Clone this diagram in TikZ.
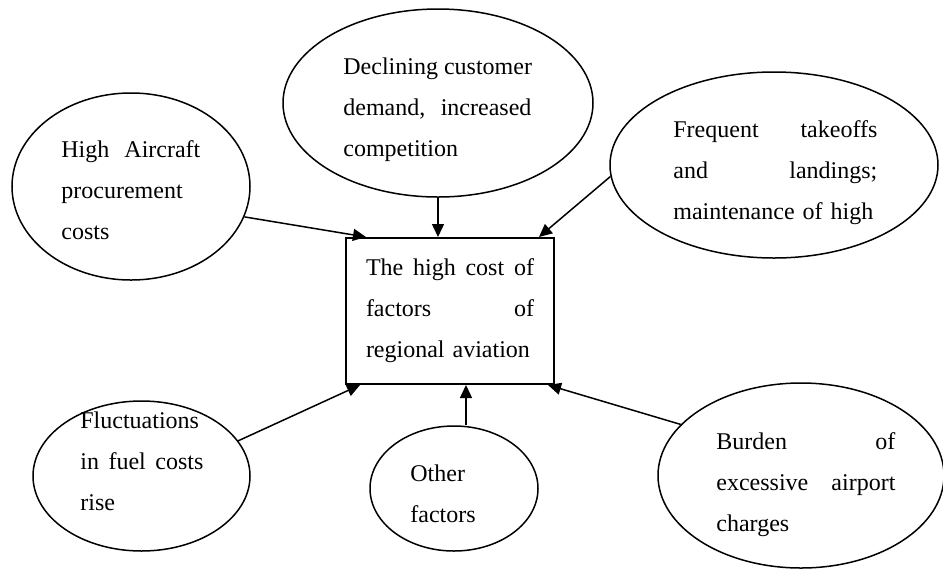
\documentclass[tikz,border=0pt]{standalone}
\usepackage{fontspec}
\setmainfont{Liberation Serif}
\usetikzlibrary{arrows.meta, shapes.geometric}
\newcommand{\jline}[1]{\makebox[\hsize][s]{\spaceskip=0.25em plus 1fil\relax #1}}

\begin{document}
\begin{tikzpicture}[x=0.5pt, y=-0.5pt,
  oval/.style={draw, ellipse, line width=0.75pt, inner sep=0pt},
  factor/.style={font=\fontsize{12}{20.5}\selectfont, align=left, inner sep=0pt, anchor=base west},
  cause/.style={-{Triangle[length=6.5pt,width=6pt]}, line width=0.75pt}]
  \useasboundingbox (0,0) rectangle (943,569);

  % Central box
  \node[draw, line width=1pt, minimum width=104pt, minimum height=73pt, text width=84pt,
        inner xsep=10pt, inner ysep=0pt, font=\fontsize{12}{20.5}\selectfont, align=left]
    (cost) at (450,311) {\jline{The high cost of}\\ \jline{factors of}\\ regional aviation};

  % --- Factors (ellipses) ---
  \node[oval, minimum width=119pt, minimum height=93.5pt] (aircraft) at (131,186.5) {};
  \node[factor, text width=69.5pt] (aircrafttext) at (61,157)
    {\jline{High Aircraft}\\ procurement\\ costs};

  \node[oval, minimum width=155pt, minimum height=94pt] (demand) at (438,103) {};
  \node[factor, text width=94pt] (demandtext) at (343,74)
    {\jline{Declining customer}\\ \jline{demand, increased}\\ competition};

  \node[oval, minimum width=164pt, minimum height=93pt] (takeoff) at (774,165) {};
  \node[factor, text width=102pt] (takeofftext) at (673,137)
    {\jline{Frequent takeoffs}\\ \jline{and landings;}\\ maintenance of high};

  \node[oval, minimum width=108.5pt, minimum height=75pt] (fuel) at (141.5,476) {};
  \node[factor, text width=61.5pt] (fueltext) at (80,428)
    {Fluctuations\\ \jline{in fuel costs}\\ rise};

  \node[oval, minimum width=84pt, minimum height=62.5pt] (other) at (454,488.5) {};
  \node[factor, text width=50pt] (othertext) at (410,481) {Other\\ factors};

  \node[oval, minimum width=143pt, minimum height=92.5pt] (airport) at (801,475.5) {};
  \node[factor, text width=89.5pt] (airporttext) at (716,449)
    {\jline{Burden of}\\ \jline{excessive airport}\\ charges};

  % --- Arrows into the box ---
  \draw[cause] (aircraft.-15) -- ([xshift=10.5pt]cost.north west);
  \draw[cause] (demand.south) -- (demand.south |- cost.north);
  \draw[cause] (takeoff.184) -- ([xshift=-8pt]cost.north east);
  \draw[cause] (fuel.20) -- ([xshift=7.5pt]cost.south west);
  \draw[cause] ([xshift=6pt]other.north) -- ([xshift=6pt]other.north |- cost.south);
  \draw[cause] (airport.157) -- ([xshift=-3.5pt]cost.south east);
\end{tikzpicture}
\end{document}
